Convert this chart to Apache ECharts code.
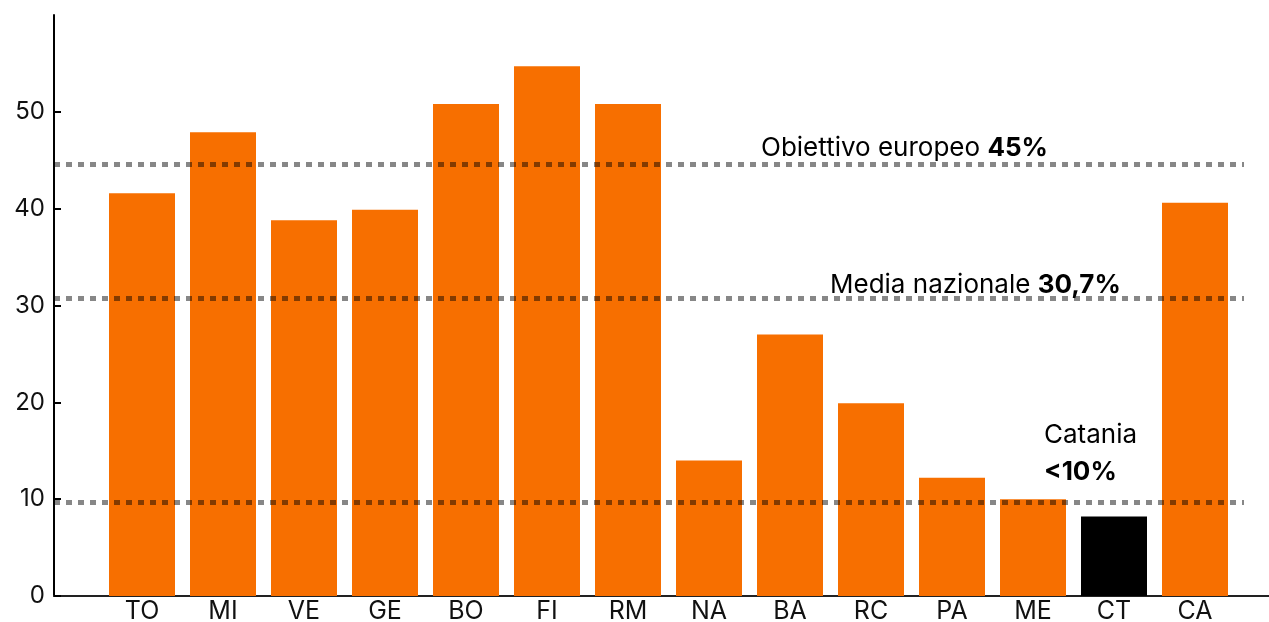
<!DOCTYPE html>
<html>
<head>
<meta charset="utf-8">
<script src="https://cdn.jsdelivr.net/npm/echarts@6/dist/echarts.min.js"></script>
<style>
html, body { margin: 0; padding: 0; background: #fff; }
#chart { width: 1269px; height: 622px; }
</style>
</head>
<body>
<div id="chart"></div>
<script>
// dati
var cities = ['TO', 'MI', 'VE', 'GE', 'BO', 'FI', 'RM', 'NA', 'BA', 'RC', 'PA', 'ME', 'CT', 'CA'];
var values = [41.6, 47.9, 38.8, 39.9, 50.8, 54.7, 50.8, 14.0, 27.0, 19.9, 12.2, 10.0, 8.2, 40.6];
var highlightCity = 'CT';
var yTicks = [0, 10, 20, 30, 40, 50];
var refValues = [44.6, 30.7, 9.7];
var refTexts = ['Obiettivo europeo ', 'Media nazionale ', 'Catania\n'];
var refFigures = ['45%', '30,7%', '<10%'];

var FONT = 'Inter';
var ORANGE = '#f76f00';

var labelShift = [707, 776, 990];
var labelLift = [-3, -5, 11];

var barData = [];
for (var i = 0; i < cities.length; i++) {
	barData.push({
		value: values[i],
		itemStyle: { color: cities[i] === highlightCity ? '#000000' : ORANGE }
	});
}

var refData = [];
for (var j = 0; j < refValues.length; j++) {
	refData.push({
		yAxis: refValues[j],
		label: {
			formatter: refTexts[j] + '{b|' + refFigures[j] + '}',
			distance: [labelShift[j], labelLift[j]]
		}
	});
}

var chart = echarts.init(document.getElementById('chart'));

chart.setOption({
	backgroundColor: '#ffffff',
	animation: false,
	textStyle: { fontFamily: FONT },
	grid: [
		{ left: 54, right: 0, top: 15, bottom: 26, outerBoundsMode: 'none' },      // assi
		{ left: 101.5, right: 33.5, top: 15, bottom: 26, outerBoundsMode: 'none' }, // barre
		{ left: 54, right: 25, top: 15, bottom: 26, outerBoundsMode: 'none' }       // linee di riferimento
	],
	xAxis: [
		{
			gridIndex: 0, type: 'value', min: 0, max: 1,
			axisLine: { show: true, lineStyle: { color: '#222', width: 2 } },
			axisTick: { show: false }, axisLabel: { show: false }, splitLine: { show: false }
		},
		{
			gridIndex: 1, type: 'category', data: cities,
			axisLine: { show: false }, axisTick: { show: false },
			axisLabel: { color: '#111', fontSize: 25, fontFamily: FONT, margin: 3 }
		},
		{
			gridIndex: 2, type: 'value', min: 0, max: 1, show: false
		}
	],
	yAxis: [
		{
			gridIndex: 0, type: 'value', min: 0, max: 60, interval: 10,
			axisLine: { show: true, lineStyle: { color: '#000', width: 2 } },
			axisTick: { show: true, inside: true, length: 7, lineStyle: { color: '#000', width: 2 }, customValues: yTicks },
			axisLabel: { color: '#111', fontSize: 24, fontFamily: FONT, margin: 9, customValues: yTicks },
			splitLine: { show: false }
		},
		{ gridIndex: 1, type: 'value', min: 0, max: 60, show: false },
		{ gridIndex: 2, type: 'value', min: 0, max: 60, show: false }
	],
	series: [
		{
			type: 'bar',
			xAxisIndex: 1, yAxisIndex: 1,
			barWidth: 66,
			data: barData,
			z: 2
		},
		{
			type: 'line',
			xAxisIndex: 2, yAxisIndex: 2,
			data: [],
			z: 5,
			markLine: {
				silent: true,
				symbol: 'none',
				lineStyle: { color: 'rgba(0,0,0,0.47)', width: 5, type: [6, 6] },
				label: {
					position: 'insideStartTop',
					color: '#000',
					fontSize: 26,
					fontFamily: FONT,
					lineHeight: 37,
					rich: {
						b: { fontWeight: 'bold', fontSize: 26, fontFamily: FONT, color: '#000', lineHeight: 37 }
					}
				},
				data: refData
			}
		}
	]
});
</script>
</body>
</html>
